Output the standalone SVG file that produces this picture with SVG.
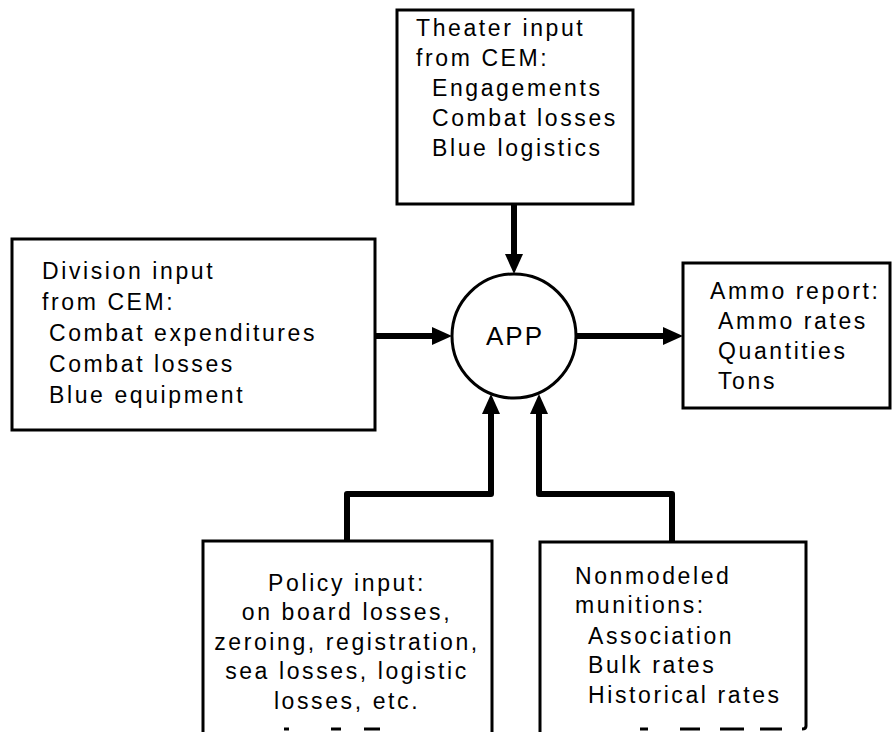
<svg xmlns="http://www.w3.org/2000/svg" width="892" height="732" viewBox="0 0 892 732">
  <style>
    .box { fill: #fff; stroke: #000; stroke-width: 3; }
    .edge { fill: none; stroke: #000; stroke-width: 3; }
    .cut { fill: none; stroke: #000; stroke-width: 3; }
    .wire { fill: none; stroke: #000; stroke-width: 6; stroke-linejoin: round; }
    .lbl { font-family: "Liberation Sans", Arial, sans-serif; font-size: 23px; letter-spacing: 2.6px; fill: #000; }
    .mid { text-anchor: middle; }
    .big { font-size: 26px; letter-spacing: 2px; }
  </style>
  <defs>
    <marker id="head" markerUnits="userSpaceOnUse" markerWidth="20" markerHeight="18" refX="0" refY="9" orient="auto">
      <path d="M0,0 L20,9 L0,18 z" fill="#000"/>
    </marker>
  </defs>

  <!-- connectors -->
  <g id="connectors">
    <path class="wire" d="M514,204 V254" marker-end="url(#head)"/>
    <path class="wire" d="M375,336 H432" marker-end="url(#head)"/>
    <path class="wire" d="M576,336 H663" marker-end="url(#head)"/>
    <path class="wire" d="M347,541 V494 H491 V414" marker-end="url(#head)"/>
    <path class="wire" d="M672,542 V494 H539 V414" marker-end="url(#head)"/>
  </g>

  <!-- theater input -->
  <g id="theater">
    <rect class="box" x="397" y="10" width="236" height="194"/>
    <text class="lbl" x="416" y="36">Theater input</text>
    <text class="lbl" x="416" y="66">from CEM:</text>
    <text class="lbl" x="432" y="96">Engagements</text>
    <text class="lbl" x="432" y="126">Combat losses</text>
    <text class="lbl" x="432" y="156">Blue logistics</text>
  </g>

  <!-- division input -->
  <g id="division">
    <rect class="box" x="12" y="239" width="363" height="191"/>
    <text class="lbl" x="42" y="279">Division input</text>
    <text class="lbl" x="42" y="310">from CEM:</text>
    <text class="lbl" x="49" y="341">Combat expenditures</text>
    <text class="lbl" x="49" y="372">Combat losses</text>
    <text class="lbl" x="49" y="403">Blue equipment</text>
  </g>

  <!-- APP process -->
  <g id="app">
    <circle cx="514" cy="336" r="62" fill="#fff" stroke="#000" stroke-width="3"/>
    <text class="lbl mid big" x="515" y="345">APP</text>
  </g>

  <!-- ammo report -->
  <g id="ammo">
    <rect class="box" x="683" y="263" width="207" height="145"/>
    <text class="lbl" x="710" y="299">Ammo report:</text>
    <text class="lbl" x="718" y="329">Ammo rates</text>
    <text class="lbl" x="718" y="359">Quantities</text>
    <text class="lbl" x="718" y="389">Tons</text>
  </g>

  <!-- policy input, lower edge broken -->
  <g id="policy">
    <path class="edge" d="M203,732 V541 H492 V732"/>
    <path class="cut" d="M284,729 h5 M331,729 h10 M364,729 h16"/>
    <text class="lbl mid" x="347" y="591">Policy input:</text>
    <text class="lbl mid" x="347" y="620">on board losses,</text>
    <text class="lbl mid" x="347" y="650">zeroing, registration,</text>
    <text class="lbl mid" x="347" y="679">sea losses, logistic</text>
    <text class="lbl mid" x="347" y="709">losses, etc.</text>
  </g>

  <!-- nonmodeled munitions, lower edge broken -->
  <g id="nonmodeled">
    <path class="edge" d="M540,732 V542 H806 V726 Q806,729 802,729"/>
    <path class="cut" d="M640,729 h8 M680,729 h20 M720,729 h24 M760,729 h22"/>
    <text class="lbl" x="575" y="584">Nonmodeled</text>
    <text class="lbl" x="575" y="613">munitions:</text>
    <text class="lbl" x="588" y="644">Association</text>
    <text class="lbl" x="588" y="673">Bulk rates</text>
    <text class="lbl" x="588" y="703">Historical rates</text>
  </g>
</svg>
